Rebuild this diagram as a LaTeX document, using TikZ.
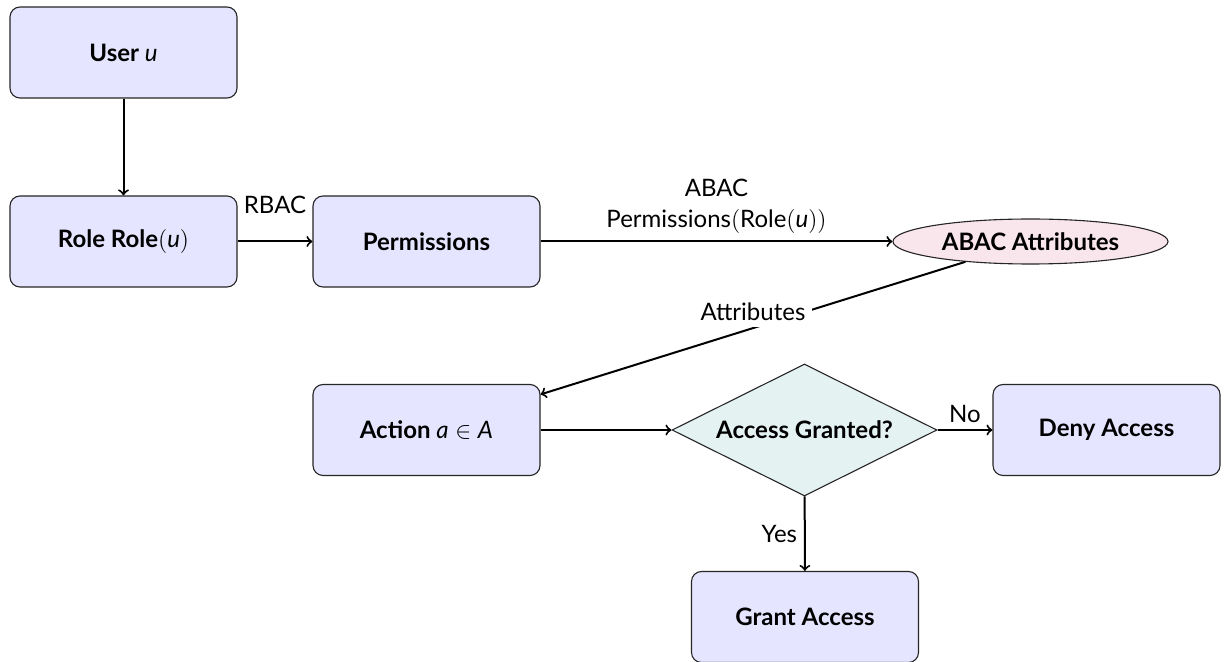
\documentclass[tikz,border=0pt]{standalone}
\usepackage[no-math]{fontspec}
\setmainfont{Lato}
\usetikzlibrary{shapes.geometric}
\newcommand\mv[1]{{\normalfont\itshape #1}}
\definecolor{boxfill}{rgb}{0.898,0.898,1.0}
\definecolor{ovalfill}{rgb}{0.975,0.9,0.925}
\definecolor{diafill}{rgb}{0.9,0.95,0.95}
\tikzset{
  stepbox/.style={rectangle, rounded corners=5pt, draw=black!85, line width=0.55pt,
    fill=boxfill, minimum width=113.5pt, minimum height=45.5pt, inner sep=0pt,
    font=\fontsize{12}{14}\selectfont\bfseries},
  oval/.style={ellipse, draw=black!85, line width=0.55pt, fill=ovalfill,
    minimum width=137.5pt, minimum height=22.5pt, inner sep=0pt,
    font=\fontsize{12}{14}\selectfont\bfseries},
  decision/.style={diamond, draw=black!85, line width=0.55pt, fill=diafill,
    minimum width=132.5pt, minimum height=66pt, inner sep=0pt, aspect=2,
    font=\fontsize{12}{14}\selectfont\bfseries},
  flow/.style={draw=black, line width=1pt, ->},
  lbl/.style={font=\fontsize{12}{15.5}\selectfont}
}
\begin{document}
\begin{tikzpicture}[x=0.5pt,y=-0.5pt]
\useasboundingbox (0,0) rectangle (1226,662);
\fill[white] (0,0) rectangle (1226,662);

% nodes
\node[stepbox] (user)   at (123.5,52.5)  {User \mv{u}};
\node[stepbox] (role)   at (123.5,241.5) {Role Role$($\mv{u}$)$};
\node[stepbox] (perm)   at (426.5,241.5) {Permissions};
\node[oval]    (abac)   at (1030.5,241.5) {ABAC Attributes};
\node[stepbox] (action) at (426.5,430)   {Action $\mbox{\mv{a}}\in\mbox{\mv{A}}$};
\node[decision] (dec)   at (804.5,430)   {Access Granted?};
\node[stepbox] (deny)   at (1106.5,430)  {Deny Access};
\node[stepbox] (grant)  at (805,617)     {Grant Access};

% connectors
\draw[flow] (user) -- (role);
\draw[flow] (role) -- node[lbl, above=10pt] {RBAC} (perm);
\draw[flow] (perm) -- node[lbl, above, align=center]
  {ABAC\\Permissions$($Role$($\mv{u}$))$} (abac);
\draw[flow] (abac) -- node[lbl, above, fill=white] {Attributes} (action);
\draw[flow] (action) -- (dec);
\draw[flow] (dec) -- node[lbl, above] {No} (deny);
\draw[flow] (dec) -- node[lbl, left] {Yes} (grant);
\end{tikzpicture}
\end{document}
